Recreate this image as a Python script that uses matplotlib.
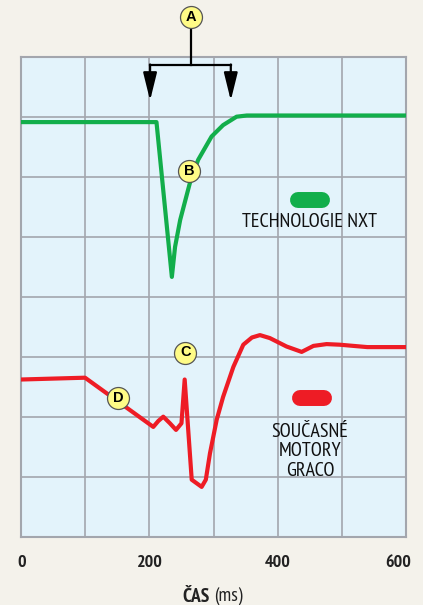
import matplotlib
matplotlib.use("Agg")
import matplotlib.pyplot as plt
from matplotlib import font_manager
from matplotlib.patches import FancyArrowPatch
from matplotlib.transforms import ScaledTranslation

# ---------------- data ----------------
green_t = [0, 211, 235, 240, 248, 263, 276, 297, 315, 336, 352, 600]
green_v = [6.91, 6.91, 4.33, 4.83, 5.28, 5.89, 6.28, 6.67, 6.86, 7.00, 7.02, 7.02]

red_t = [0, 99.5, 206, 214, 221.6, 232, 241.5, 250, 255, 266, 281.5, 288,
         294.5, 305, 315, 331, 346.5, 360, 372.5, 388, 414, 437.6, 456, 476.5, 497, 540, 600]
red_v = [2.62, 2.65, 1.83, 1.93, 2.00, 1.89, 1.78, 1.89, 2.62, 0.95, 0.83, 0.95,
         1.39, 1.95, 2.33, 2.83, 3.20, 3.32, 3.36, 3.31, 3.17, 3.08, 3.18, 3.21, 3.20, 3.16, 3.16]

x_ticks = [0, 100, 200, 300, 400, 500, 600]
x_tick_labels = ["0", "", "200", "", "400", "", "600"]
y_grid = [1, 2, 3, 4, 5, 6, 7]

labels_letters = ["A", "B", "C", "D"]
labels_t = [264.6, 262, 256, 151]
labels_v = [8.66, 6.09, 3.07, 2.32]

series_names = ["TECHNOLOGIE NXT", "SOUČASNÉ\nMOTORY\nGRACO"]

# ---------------- fonts ----------------
fl = font_manager.fontManager.ttflist
names = {f.name for f in fl}
bold_names = {f.name for f in fl if (isinstance(f.weight, int) and f.weight >= 600) or f.weight == "bold"}
candidates = ["Liberation Sans Narrow", "Arial Narrow", "Archivo Narrow", "PT Sans Narrow",
              "Roboto Condensed", "Pragati Narrow", "IBM Plex Sans Condensed",
              "Fira Sans Condensed", "Encode Sans Condensed", "Open Sans Condensed", "Liberation Sans"]
narrow = next((c for c in candidates if c in names and c in bold_names),
              next((c for c in candidates if c in names), "DejaVu Sans"))
plt.rcParams["font.family"] = [narrow, "DejaVu Sans"]

GREEN = "#12AE4B"
RED = "#EE1C25"
BG = "#F4F2EB"
PLOT_BG = "#E3F3FB"
GRID = "#A3A6AD"

fig = plt.figure(figsize=(4.23, 6.05), dpi=100, facecolor=BG)
ax = fig.add_axes([21.3 / 423, 68.3 / 605, 384.4 / 423, 480 / 605])
ax.set_facecolor(PLOT_BG)
ax.set_xlim(0, 600)
ax.set_ylim(0, 8)

ax.set_xticks(x_ticks)
ax.set_xticklabels(x_tick_labels, fontsize=13, fontweight="bold", color="#222222")
ax.set_yticks(y_grid)
ax.set_yticklabels([])
ax.tick_params(axis="both", length=0, pad=13)
ax.grid(True, color=GRID, linewidth=1.2)
ax.set_axisbelow(True)
for s in ax.spines.values():
    s.set_color(GRID)
    s.set_linewidth(1.5)

lbls = ax.get_xticklabels()
lbls[-1].set_transform(lbls[-1].get_transform() + ScaledTranslation(-8 / 100, 0, fig.dpi_scale_trans))

# curves
ax.plot(green_t, green_v, color=GREEN, linewidth=3, solid_joinstyle="round", zorder=3)
ax.plot(red_t, red_v, color=RED, linewidth=3, solid_joinstyle="round", zorder=3)

# legend pills
ax.plot([432, 469], [5.62, 5.62], color=GREEN, linewidth=11.5, solid_capstyle="round", zorder=3)
ax.plot([434.5, 473], [2.32, 2.32], color=RED, linewidth=11.5, solid_capstyle="round", zorder=3)
ax.text(450.6, 5.25, series_names[0], ha="center", va="center", fontsize=14.5, color="#111111")
ax.text(450.6, 1.42, series_names[1], ha="center", va="center", fontsize=14.5, color="#111111",
        linespacing=1.1)

# bracket A
bx_mid, bx_l, bx_r = 264.6, 201, 327
by = 7.87
ax.plot([bx_mid, bx_mid], [8.48, by], color="black", linewidth=1.6, clip_on=False, zorder=4)
ax.plot([bx_l, bx_r], [by, by], color="black", linewidth=1.6, clip_on=False, zorder=4,
        solid_capstyle="projecting")
for bx in (bx_l, bx_r):
    ax.add_patch(FancyArrowPatch((bx, by), (bx, 7.27), arrowstyle="-|>,head_length=1.7,head_width=0.42",
                                 mutation_scale=10, color="black", linewidth=1.6,
                                 shrinkA=0, shrinkB=0, zorder=4, clip_on=False))

# letter circles
ax.scatter(labels_t, labels_v, s=250, facecolor="#FFFB86", edgecolor="#555555",
           linewidth=0.9, zorder=5, clip_on=False)
for L, t, v in zip(labels_letters, labels_t, labels_v):
    ax.text(t, v, L, ha="center", va="center", fontsize=10.5, fontweight="bold",
            family=["Liberation Sans", "DejaVu Sans"], zorder=6)

# x axis label
fig.text(210 / 423, 1 - 596.7 / 605, "ČAS", ha="right", va="center", fontsize=14,
         fontweight="bold", color="#222222")
fig.text(214 / 423, 1 - 596.7 / 605, "(ms)", ha="left", va="center", fontsize=14,
         color="#222222")

fig.savefig("out.png", dpi=100, facecolor=BG)
